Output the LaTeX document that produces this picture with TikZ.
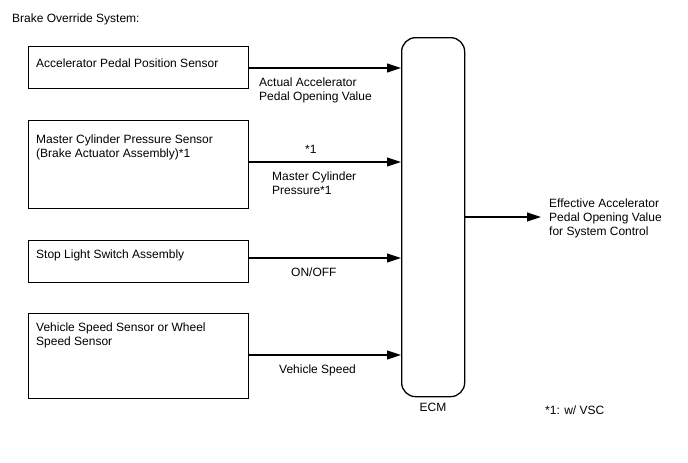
\documentclass[tikz,border=0pt]{standalone}
\usepackage{fontspec}
\setmainfont{Liberation Sans}
\usetikzlibrary{arrows.meta}
\begin{document}
\begin{tikzpicture}[x=1pt,y=-1pt,
  box/.style={draw, line width=1.3pt, anchor=north west, inner sep=0pt, minimum width=220pt},
  txt/.style={anchor=base west, inner sep=0pt, align=left, font=\fontsize{12}{14}\selectfont},
  arr/.style={line width=1.1pt, -{Triangle[length=14pt,width=9pt]}}]
\useasboundingbox[fill=white] (0,0) rectangle (688,463);

\node[txt] (title) at (12,22) {Brake Override System:};

\node[box, minimum height=42pt] (b1) at (28,46) {};
\node[box, minimum height=88pt] (b2) at (28,120) {};
\node[box, minimum height=42pt] (b3) at (28,240) {};
\node[box, minimum height=85pt] (b4) at (28,313) {};
\node[box, minimum width=63pt, minimum height=359pt, rounded corners=14pt] (ecm) at (401,37) {};

\node[txt] (t1) at (36,67) {Accelerator Pedal Position Sensor};
\node[txt] (t2) at (36,157) {Master Cylinder Pressure Sensor\\(Brake Actuator Assembly)*1};
\node[txt] (t3) at (36,258) {Stop Light Switch Assembly};
\node[txt] (t4) at (36,345) {Vehicle Speed Sensor or Wheel\\Speed Sensor};

\draw[arr] (b1.east |- 0,68) -- (ecm.west |- 0,68);
\draw[arr] (b2.east |- 0,162) -- (ecm.west |- 0,162);
\draw[arr] (b3.east |- 0,258) -- (ecm.west |- 0,258);
\draw[arr] (b4.east |- 0,355) -- (ecm.west |- 0,355);

\node[txt] (l1) at (259,100) {Actual Accelerator\\Pedal Opening Value};
\node[txt] (l2a) at (305,153) {*1};
\node[txt] (l2) at (272,194) {Master Cylinder\\Pressure*1};
\node[txt] (l3) at (291,276) {ON/OFF};
\node[txt] (l4) at (279,373) {Vehicle Speed};

\node[txt, anchor=base] (ecmlabel) at (433,411) {ECM};

\coordinate (out) at (541,217);
\draw[arr] (ecm.east |- out) -- (out);
\node[txt] (outl) at (549,235) {Effective Accelerator\\Pedal Opening Value\\for System Control};
\node[txt] (note) at (545,414) {*1: w/ VSC};
\end{tikzpicture}
\end{document}
